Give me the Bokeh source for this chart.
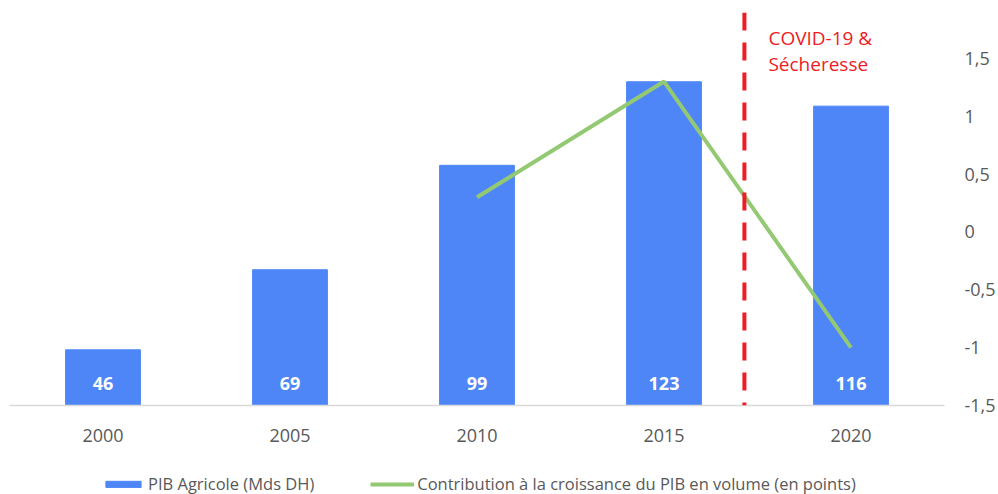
from bokeh.plotting import figure
from bokeh.layouts import column
from bokeh.models import (Range1d, LinearAxis, FixedTicker, Span, Label, Legend,
                          LegendItem, ColumnDataSource, CustomJSTickFormatter)
from bokeh.core.properties import value
from bokeh.embed import file_html
from bokeh.resources import INLINE

years = [2000, 2005, 2010, 2015, 2020]
pib_agricole = [46, 69, 99, 123, 116]
line_years = [2010, 2015, 2020]
contribution = [0.3, 1.3, -1.0]
right_ticks = [-1.5, -1, -0.5, 0, 0.5, 1, 1.5]
event_x = 2017.15
event_lines = ["COVID-19 &", "Sécheresse"]
bar_name = "PIB Agricole (Mds DH)"
line_name = "Contribution à la croissance du PIB en volume (en points)"

FONT = "Open Sans"
GRAY = "#595959"
BLUE = "#4E86F8"
GREEN = "#94C973"
RED = "#EE1C24"

p = figure(width=998, height=470, output_backend="svg", toolbar_location=None,
           x_range=Range1d(1997.5, 2022.5), y_range=Range1d(30, 142.9),
           min_border_left=9, min_border_top=12, min_border_bottom=65, min_border_right=50)
p.extra_y_ranges = {"right": Range1d(-1.5, 1.897)}
p.outline_line_color = None
p.xgrid.visible = False
p.ygrid.visible = False
p.yaxis.visible = False

src = ColumnDataSource(dict(x=years, y=pib_agricole, lab=[str(v) for v in pib_agricole]))
bars = p.vbar(x="x", top="y", bottom=30, width=2.0, source=src, color=BLUE)
p.text(x="x", y=30, text="lab", source=src, text_color="white", text_font=value(FONT),
       text_font_style="bold", text_font_size="18px", text_align="center",
       text_baseline="middle", y_offset=-22)

ln = p.line(line_years, contribution, y_range_name="right", line_color=GREEN, line_width=4)

xa = p.xaxis[0]
xa.ticker = FixedTicker(ticks=years)
xa.axis_line_color = "#D9D9D9"
xa.axis_line_width = 1.5
xa.major_tick_line_color = None
xa.minor_tick_line_color = None
xa.major_label_standoff = 17
xa.major_label_text_font = FONT
xa.major_label_text_font_size = "18px"
xa.major_label_text_color = GRAY

ra = LinearAxis(y_range_name="right", ticker=FixedTicker(ticks=right_ticks))
ra.formatter = CustomJSTickFormatter(code="return String(tick).replace('.', ',');")
ra.axis_line_color = None
ra.major_tick_line_color = None
ra.minor_tick_line_color = None
ra.major_label_standoff = 14
ra.major_label_text_font = FONT
ra.major_label_text_font_size = "18px"
ra.major_label_text_color = GRAY
p.add_layout(ra, "right")

p.add_layout(Span(location=event_x, dimension="height", line_color=RED, line_width=4,
                  line_dash="18 12"))
for i, t in enumerate(event_lines):
    p.add_layout(Label(x=event_x, y=1.68 - 0.225 * i, y_range_name="right", text=t,
                       x_offset=24, text_baseline="middle", text_color=RED,
                       text_font=FONT, text_font_size="19px"))

# legend strip below the chart (hidden copies of the series provide the legend glyphs)
lg = figure(width=998, height=24, output_backend="svg", toolbar_location=None,
            x_range=Range1d(1997.5, 2022.5), y_range=Range1d(30, 142.9),
            min_border_left=0, min_border_right=0, min_border_top=0, min_border_bottom=0)
lg.axis.visible = False
lg.grid.visible = False
lg.outline_line_color = None
lg_bar = lg.vbar(x=years, top=pib_agricole, width=2.0, color=BLUE, visible=False)
lg_line = lg.line(line_years, contribution, line_color=GREEN, line_width=4, visible=False)
legend = Legend(items=[LegendItem(label=bar_name, renderers=[lg_bar]),
                       LegendItem(label=line_name, renderers=[lg_line])],
                orientation="horizontal", location=(92, -1), glyph_width=44, glyph_height=8,
                label_height=12, label_standoff=3, spacing=56, padding=0, margin=0,
                label_text_font=FONT, label_text_font_size="16.5px", label_text_color=GRAY,
                inactive_fill_alpha=0, background_fill_alpha=0, border_line_color=None)
lg.add_layout(legend, "center")

open("out.html", "w").write(file_html(column(p, lg, spacing=0), INLINE))
